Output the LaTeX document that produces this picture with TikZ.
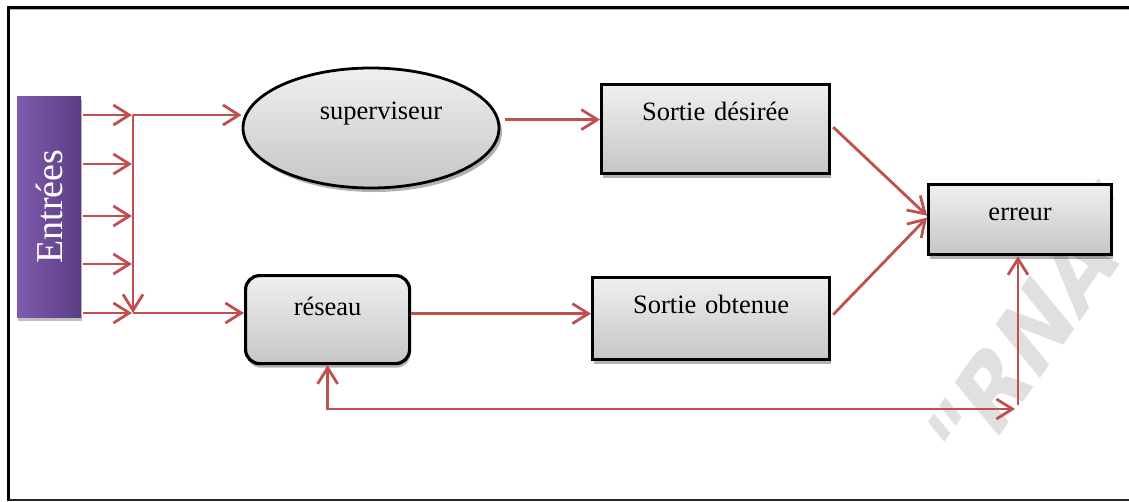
\documentclass[tikz,border=0pt]{standalone}
\usepackage{fontspec}
\setmainfont{Liberation Serif}
\newfontfamily\wmfont{DejaVu Sans}[FakeSlant=0.28,BoldFeatures={FakeSlant=0.28}]
\usetikzlibrary{arrows.meta,shapes.geometric,shadows,calc}
\definecolor{arrred}{HTML}{C0504D}
\definecolor{purpL}{HTML}{7E5BAE}
\definecolor{purpR}{HTML}{5B3D84}
\definecolor{wmgray}{HTML}{E0E0E0}

\begin{document}
\begin{tikzpicture}[x=1pt,y=-1pt,
  arr/.style={draw=arrred, line width=2.8pt,
    -{Straight Barb[length=16pt,width=20pt]}},
  shade box/.style={draw=black, line width=3.2pt, inner sep=0pt,
    top color=gray!12, bottom color=gray!45, align=center,
    font=\fontsize{26.5}{30}\selectfont,
    drop shadow={shadow xshift=1pt, shadow yshift=-4pt, fill=black, opacity=0.3}},
  lbl/.style={font=\fontsize{26.5}{30}\selectfont, inner sep=0pt}
]
\useasboundingbox (0,0) rectangle (1129,501);
\clip (0,0) rectangle (1129,501);

% faint watermark behind the diagram
\node[rotate=55, text=wmgray, font=\wmfont\bfseries\fontsize{92}{92}\selectfont]
  (wm) at (1030,335) {"RNA"};

% page frame
\draw[line width=3pt] (1135,7.5) -- (8.7,7.5) -- (8.7,501);
\draw[gray!60, line width=1pt] (10.2,9.8) -- (1135,9.8);
\draw[black!85, line width=2pt] (8.7,500.3) -- (1135,500.3);

% inputs block
\node[anchor=north west, minimum width=64pt, minimum height=221pt, inner sep=0pt,
  left color=purpL, right color=purpR,
  drop shadow={shadow xshift=1pt, shadow yshift=-4pt, fill=black, opacity=0.25}]
  (ent) at (17,96) {};
\node[rotate=90, text=white, inner sep=0pt, font=\fontsize{38}{40}\selectfont]
  (entt) at (ent.center) {Entrées};

% blocks
\node[ellipse, draw=black, line width=2.8pt, minimum width=256pt, minimum height=120pt,
  inner sep=0pt, top color=gray!12, bottom color=gray!45,
  drop shadow={shadow xshift=3pt, shadow yshift=-4pt, fill=black, opacity=0.3}]
  (sup) at (371,128) {};
\node[lbl, anchor=base] (supt) at (381,119) {superviseur};

\node[shade box, anchor=north west, text width=228pt, text height=36pt, text depth=53pt]
  (sd) at (600,83) {Sortie désirée};
\node[shade box, anchor=north west, text width=183pt, text height=36pt, text depth=34pt]
  (err) at (927,183) {erreur};
\node[shade box, anchor=north west, text width=237pt, text height=36pt, text depth=46pt]
  (so) at (591,276) {Sortie obtenue};
\node[shade box, rounded corners=14pt, anchor=north west, text width=164pt,
  text height=40pt, text depth=48pt]
  (res) at (244,274) {réseau};

% input arrows and collecting bus
\coordinate (vt) at (133,115);
\coordinate (vb) at (133,313);
\foreach \yy in {115,164,216,264,313}
  \draw[arr, shorten >=1pt] (ent.east |- 0,\yy) ++(2,0) -- (vt |- 0,\yy);
\draw[arr] (vt) -- (vb);
\draw[arr] (vt) -- (vt -| sup.west);
\draw[arr] (vb) -- (vb -| res.west);

% forward connections
\coordinate (p1) at ($(sd.west)+(0,-9.5)$);
\draw[arr, shorten <=5pt] (p1 -| sup.east) -- (p1);
\coordinate (p2) at ($(so.west)+(0,-5)$);
\draw[arr] (p2 -| res.east) -- (p2);
\draw[arr] ($(sd.east)+(2,-2)$) -- ($(err.west)+(0,-4)$);
\draw[arr] ($(so.east)+(2,-4)$) -- ($(err.west)+(0,-2)$);

% error feedback
\coordinate (fbR) at (1015,409);
\coordinate (fbV) at (1018,405);
\draw[arr, {Straight Barb[length=16pt,width=20pt]}-{Straight Barb[length=16pt,width=20pt]}]
  (res.south) |- (fbR);
\draw[arr] (fbV) -- (fbV |- err.south);
\end{tikzpicture}
\end{document}
